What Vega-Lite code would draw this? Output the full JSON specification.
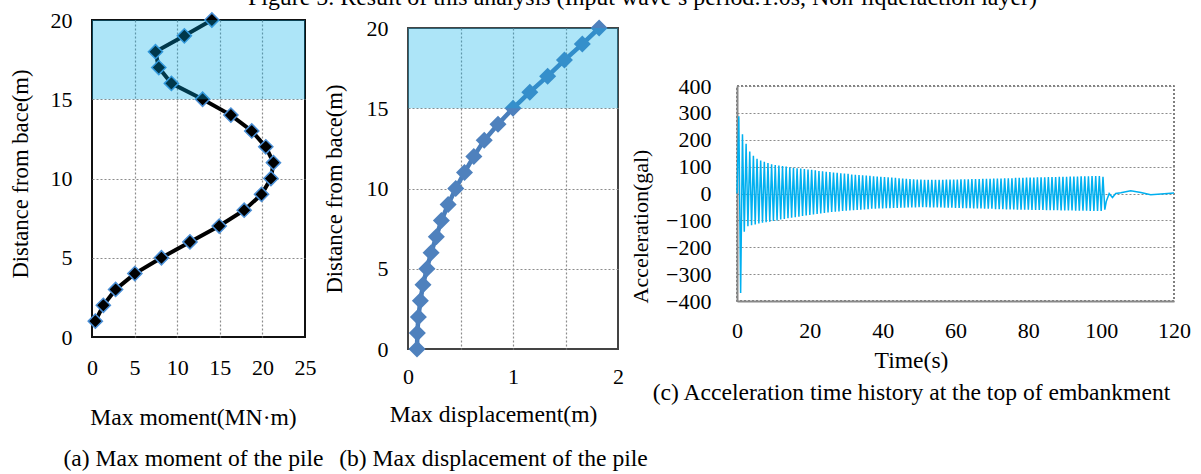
{
  "$schema": "https://vega.github.io/schema/vega-lite/v6.json",
  "padding": {"top": -14, "left": 8, "right": 0, "bottom": 0},
  "background": "white",
  "config": {
    "font": "Liberation Serif",
    "axis": {
      "labelFont": "Liberation Serif", "titleFont": "Liberation Serif",
      "labelFontSize": 22, "titleFontSize": 23.6, "labelColor": "#000", "titleColor": "#000",
      "titleFontWeight": "normal", "ticks": false, "tickSize": 0,
      "labelFlush": false, "labelOverlap": false,
      "gridDash": [2, 2], "gridColor": "#8c8c8c", "gridWidth": 1.2
    },
    "title": {"font": "Liberation Serif", "fontWeight": "normal", "color": "#000"}
  },
  "title": {
    "text": "Figure 5. Result of this analysis (Input wave’s period:1.0s, Non-liquefaction layer)",
    "fontSize": 23.9, "anchor": "start", "dx": 240, "offset": -23, "baseline": "alphabetic"
  },
  "datasets": {
    "empty": [],
    "moment": [
      {"h": 1, "m": 0.39}, {"h": 2, "m": 1.33}, {"h": 3, "m": 2.77}, {"h": 4, "m": 5.03},
      {"h": 5, "m": 8.15}, {"h": 6, "m": 11.5}, {"h": 7, "m": 14.93}, {"h": 8, "m": 17.86},
      {"h": 9, "m": 19.9}, {"h": 10, "m": 21.0}, {"h": 11, "m": 21.3}, {"h": 12, "m": 20.4},
      {"h": 13, "m": 18.75}, {"h": 14, "m": 16.3}, {"h": 15, "m": 12.98}, {"h": 16, "m": 9.32},
      {"h": 17, "m": 7.84}, {"h": 18, "m": 7.45}, {"h": 19, "m": 10.84}, {"h": 20, "m": 14.07}
    ],
    "disp": [
      {"h": 0, "d": 0.086}, {"h": 1, "d": 0.089}, {"h": 2, "d": 0.099}, {"h": 3, "d": 0.118},
      {"h": 4, "d": 0.143}, {"h": 5, "d": 0.18}, {"h": 6, "d": 0.22}, {"h": 7, "d": 0.27},
      {"h": 8, "d": 0.318}, {"h": 9, "d": 0.382}, {"h": 10, "d": 0.455}, {"h": 11, "d": 0.538},
      {"h": 12, "d": 0.627}, {"h": 13, "d": 0.726}, {"h": 14, "d": 0.857}, {"h": 15, "d": 1.0},
      {"h": 16, "d": 1.16}, {"h": 17, "d": 1.33}, {"h": 18, "d": 1.49}, {"h": 19, "d": 1.66},
      {"h": 20, "d": 1.82}
    ],
    "band": [{"y0": 15, "y1": 20}],
    "acc": [
      {"t":0,"a":0},
      {"t":0.5,"a":287},{"t":1,"a":-370},{"t":1.5,"a":220},{"t":2,"a":-142},
      {"t":2.5,"a":185},{"t":3,"a":-122},{"t":3.5,"a":156},{"t":4,"a":-118},
      {"t":4.5,"a":140},{"t":5,"a":-115},{"t":5.5,"a":129},{"t":6,"a":-112},
      {"t":6.5,"a":123},{"t":7,"a":-109},{"t":7.5,"a":118},{"t":8,"a":-107},
      {"t":8.5,"a":113},{"t":9,"a":-105},{"t":9.5,"a":109},{"t":10,"a":-102},
      {"t":10.5,"a":106},{"t":11,"a":-100},{"t":11.5,"a":104},{"t":12,"a":-97},
      {"t":12.5,"a":102},{"t":13,"a":-95},{"t":13.5,"a":100},{"t":14,"a":-92},
      {"t":14.5,"a":98},{"t":15,"a":-90},{"t":15.5,"a":96},{"t":16,"a":-88},
      {"t":16.5,"a":94},{"t":17,"a":-86},{"t":17.5,"a":93},{"t":18,"a":-84},
      {"t":18.5,"a":91},{"t":19,"a":-82},{"t":19.5,"a":89},{"t":20,"a":-80},
      {"t":20.5,"a":88},{"t":21,"a":-78},{"t":21.5,"a":86},{"t":22,"a":-76},
      {"t":22.5,"a":84},{"t":23,"a":-74},{"t":23.5,"a":83},{"t":24,"a":-72},
      {"t":24.5,"a":81},{"t":25,"a":-71},{"t":25.5,"a":80},{"t":26,"a":-69},
      {"t":26.5,"a":78},{"t":27,"a":-68},{"t":27.5,"a":77},{"t":28,"a":-67},
      {"t":28.5,"a":75},{"t":29,"a":-65},{"t":29.5,"a":74},{"t":30,"a":-64},
      {"t":30.5,"a":73},{"t":31,"a":-63},{"t":31.5,"a":71},{"t":32,"a":-62},
      {"t":32.5,"a":70},{"t":33,"a":-61},{"t":33.5,"a":69},{"t":34,"a":-60},
      {"t":34.5,"a":68},{"t":35,"a":-59},{"t":35.5,"a":67},{"t":36,"a":-58},
      {"t":36.5,"a":66},{"t":37,"a":-57},{"t":37.5,"a":64},{"t":38,"a":-57},
      {"t":38.5,"a":63},{"t":39,"a":-56},{"t":39.5,"a":62},{"t":40,"a":-56},
      {"t":40.5,"a":61},{"t":41,"a":-55},{"t":41.5,"a":60},{"t":42,"a":-55},
      {"t":42.5,"a":59},{"t":43,"a":-54},{"t":43.5,"a":58},{"t":44,"a":-54},
      {"t":44.5,"a":57},{"t":45,"a":-53},{"t":45.5,"a":56},{"t":46,"a":-53},
      {"t":46.5,"a":55},{"t":47,"a":-52},{"t":47.5,"a":54},{"t":48,"a":-52},
      {"t":48.5,"a":53},{"t":49,"a":-52},{"t":49.5,"a":52},{"t":50,"a":-51},
      {"t":50.5,"a":52},{"t":51,"a":-51},{"t":51.5,"a":51},{"t":52,"a":-51},
      {"t":52.5,"a":51},{"t":53,"a":-52},{"t":53.5,"a":51},{"t":54,"a":-52},
      {"t":54.5,"a":51},{"t":55,"a":-52},{"t":55.5,"a":51},{"t":56,"a":-52},
      {"t":56.5,"a":51},{"t":57,"a":-53},{"t":57.5,"a":52},{"t":58,"a":-53},
      {"t":58.5,"a":52},{"t":59,"a":-53},{"t":59.5,"a":52},{"t":60,"a":-54},
      {"t":60.5,"a":52},{"t":61,"a":-54},{"t":61.5,"a":53},{"t":62,"a":-55},
      {"t":62.5,"a":53},{"t":63,"a":-55},{"t":63.5,"a":53},{"t":64,"a":-55},
      {"t":64.5,"a":54},{"t":65,"a":-56},{"t":65.5,"a":54},{"t":66,"a":-56},
      {"t":66.5,"a":54},{"t":67,"a":-56},{"t":67.5,"a":55},{"t":68,"a":-57},
      {"t":68.5,"a":55},{"t":69,"a":-57},{"t":69.5,"a":55},{"t":70,"a":-57},
      {"t":70.5,"a":56},{"t":71,"a":-58},{"t":71.5,"a":56},{"t":72,"a":-58},
      {"t":72.5,"a":56},{"t":73,"a":-58},{"t":73.5,"a":57},{"t":74,"a":-59},
      {"t":74.5,"a":57},{"t":75,"a":-59},{"t":75.5,"a":57},{"t":76,"a":-59},
      {"t":76.5,"a":58},{"t":77,"a":-60},{"t":77.5,"a":58},{"t":78,"a":-60},
      {"t":78.5,"a":58},{"t":79,"a":-60},{"t":79.5,"a":59},{"t":80,"a":-60},
      {"t":80.5,"a":59},{"t":81,"a":-61},{"t":81.5,"a":59},{"t":82,"a":-61},
      {"t":82.5,"a":60},{"t":83,"a":-61},{"t":83.5,"a":60},{"t":84,"a":-61},
      {"t":84.5,"a":60},{"t":85,"a":-62},{"t":85.5,"a":61},{"t":86,"a":-62},
      {"t":86.5,"a":61},{"t":87,"a":-62},{"t":87.5,"a":61},{"t":88,"a":-62},
      {"t":88.5,"a":62},{"t":89,"a":-63},{"t":89.5,"a":62},{"t":90,"a":-63},
      {"t":90.5,"a":62},{"t":91,"a":-63},{"t":91.5,"a":63},{"t":92,"a":-63},
      {"t":92.5,"a":63},{"t":93,"a":-64},{"t":93.5,"a":63},{"t":94,"a":-64},
      {"t":94.5,"a":64},{"t":95,"a":-64},{"t":95.5,"a":64},{"t":96,"a":-64},
      {"t":96.5,"a":64},{"t":97,"a":-65},{"t":97.5,"a":65},{"t":98,"a":-65},
      {"t":98.5,"a":65},{"t":99,"a":-65},{"t":99.5,"a":65},{"t":100,"a":-65},
      {"t":100.5,"a":62},{"t":101,"a":-60},{"t":101.4,"a":-30},{"t":102.2,"a":0},
      {"t":103.1,"a":-15},{"t":104,"a":0},{"t":105.4,"a":3},{"t":108.1,"a":10},
      {"t":110.9,"a":4},{"t":113.6,"a":-5},{"t":116.4,"a":-2},{"t":120,"a":2}
    ]
  },
  "spacing": -21,
  "hconcat": [
    {
      "spacing": -3,
      "hconcat": [
        {
          "spacing": 0,
          "vconcat": [
            {"width": 1, "height": 2, "view": {"stroke": null}, "data": {"name": "empty"}, "mark": {"type": "point"}, "encoding": {}},
            {
              "width": 213, "height": 317,
              "view": {"stroke": "#111", "strokeWidth": 2},
              "layer": [
                {
                  "data": {"name": "moment"},
                  "mark": {"type": "line", "color": "#000", "strokeWidth": 4},
                  "encoding": {
                    "x": {"field": "m", "type": "quantitative", "scale": {"domain": [0, 25], "nice": false},
                      "axis": {"values": [0, 5, 10, 15, 20, 25], "grid": true, "domain": false, "labelPadding": 20,
                        "gridOpacity": {"condition": {"test": "datum.value == 0 || datum.value == 25", "value": 0}, "value": 1},
                        "title": ["Max moment(MN·m)", "(a) Max moment of the pile"], "titleLineHeight": 41,
                        "titlePadding": 27, "titleX": 101}},
                    "y": {"field": "h", "type": "quantitative", "scale": {"domain": [0, 20], "nice": false},
                      "axis": {"values": [0, 5, 10, 15, 20], "grid": true, "domain": false, "labelPadding": 20,
                        "gridOpacity": {"condition": {"test": "datum.value == 0 || datum.value == 20", "value": 0}, "value": 1},
                        "title": "Distance from bace(m)", "titleFontSize": 22.7, "titlePadding": 18, "titleY": 153.5}},
                    "order": {"field": "h", "type": "quantitative"}
                  }
                },
                {
                  "data": {"name": "moment"},
                  "mark": {"type": "point", "shape": "diamond", "filled": true, "fill": "#000", "stroke": "#4a8fd6", "strokeWidth": 1.5, "size": 200, "opacity": 1},
                  "encoding": {
                    "x": {"field": "m", "type": "quantitative"},
                    "y": {"field": "h", "type": "quantitative"}
                  }
                },
                {
                  "data": {"name": "band"},
                  "mark": {"type": "rect", "color": "#00aee8", "opacity": 0.32},
                  "encoding": {
                    "y": {"field": "y0", "type": "quantitative"},
                    "y2": {"field": "y1"}
                  }
                }
              ]
            }
          ]
        },
        {
          "spacing": 0,
          "vconcat": [
            {"width": 1, "height": 10, "view": {"stroke": null}, "data": {"name": "empty"}, "mark": {"type": "point"}, "encoding": {}},
            {
              "width": 210, "height": 321,
              "view": {"stroke": "#444", "strokeWidth": 2},
              "layer": [
                {
                  "data": {"name": "disp"},
                  "mark": {"type": "line", "color": "#4a7ebb", "strokeWidth": 4.5},
                  "encoding": {
                    "x": {"field": "d", "type": "quantitative", "scale": {"domain": [0, 2], "nice": false},
                      "axis": {"values": [0, 0.5, 1, 1.5, 2], "grid": true, "domain": false, "labelPadding": 17,
                        "format": "~g",
                        "labelExpr": "datum.value % 1 == 0 ? datum.label : ''",
                        "gridOpacity": {"condition": {"test": "datum.value == 0 || datum.value == 2", "value": 0}, "value": 1},
                        "title": ["Max displacement(m)", "(b) Max displacement of the pile"], "titleLineHeight": 44,
                        "titlePadding": 15, "titleX": 85}},
                    "y": {"field": "h", "type": "quantitative", "scale": {"domain": [0, 20], "nice": false},
                      "axis": {"values": [0, 5, 10, 15, 20], "grid": true, "domain": false, "labelPadding": 20,
                        "gridOpacity": {"condition": {"test": "datum.value == 0 || datum.value == 20", "value": 0}, "value": 1},
                        "title": "Distance from bace(m)", "titleFontSize": 22.7, "titlePadding": 20}},
                    "order": {"field": "h", "type": "quantitative"}
                  }
                },
                {
                  "data": {"name": "disp"},
                  "mark": {"type": "point", "shape": "diamond", "filled": true, "fill": "#4f81bd", "size": 290, "opacity": 1},
                  "encoding": {
                    "x": {"field": "d", "type": "quantitative"},
                    "y": {"field": "h", "type": "quantitative"}
                  }
                },
                {
                  "data": {"name": "band"},
                  "mark": {"type": "rect", "color": "#00aee8", "opacity": 0.32},
                  "encoding": {
                    "y": {"field": "y0", "type": "quantitative"},
                    "y2": {"field": "y1"}
                  }
                }
              ]
            }
          ]
        }
      ]
    },
    {
      "spacing": 0,
      "vconcat": [
        {"width": 1, "height": 68, "view": {"stroke": null}, "data": {"name": "empty"}, "mark": {"type": "point"}, "encoding": {}},
        {
          "width": 437, "height": 215,
          "view": {"stroke": "#555", "strokeWidth": 1.5, "strokeDash": [2, 2]},
          "data": {"name": "acc"},
          "mark": {"type": "line", "color": "#00b0f0", "strokeWidth": 1.5},
          "encoding": {
            "x": {"field": "t", "type": "quantitative", "scale": {"domain": [0, 120], "nice": false},
              "axis": {"values": [0, 20, 40, 60, 80, 100, 120], "grid": false, "domain": true, "domainColor": "#888", "domainWidth": 2,
                "labelPadding": 19, "title": ["Time(s)", "(c) Acceleration time history at the top of embankment"],
                "titleLineHeight": 32, "titlePadding": 7.5, "titleX": 174}},
            "y": {"field": "a", "type": "quantitative", "scale": {"domain": [-400, 400], "nice": false},
              "axis": {"values": [-400, -300, -200, -100, 0, 100, 200, 300, 400], "grid": true, "domain": true, "domainColor": "#888", "domainWidth": 2,
                "labelPadding": 26, "title": "Acceleration(gal)", "titleFontSize": 22, "titlePadding": 13, "titleY": 140}},
            "order": {"field": "t", "type": "quantitative"}
          }
        }
      ]
    }
  ]
}
